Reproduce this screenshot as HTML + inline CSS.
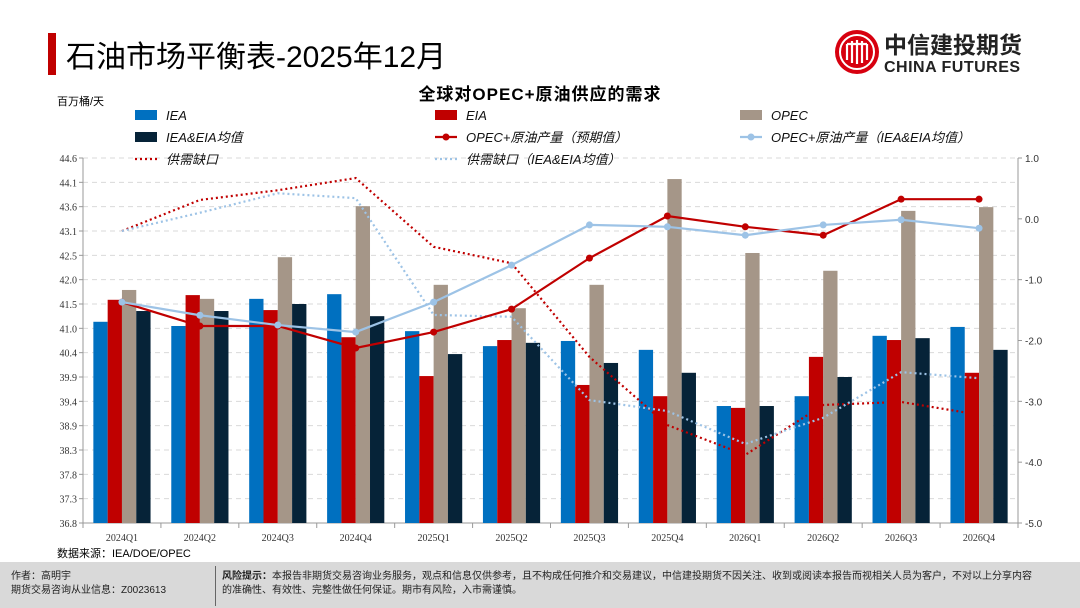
<!DOCTYPE html>
<html><head><meta charset="utf-8">
<style>
body{margin:0;width:1080px;height:608px;background:#fff;position:relative;overflow:hidden;font-family:"Liberation Sans","Noto Sans CJK SC",sans-serif;}
.abs{position:absolute;}
</style></head><body>
<div class="abs" style="left:48px;top:33px;width:8px;height:42px;background:#c00000"></div>
<div class="abs" style="left:66px;top:32px;font-size:30px;color:#000;white-space:nowrap;letter-spacing:0px">石油市场平衡表-2025年12月</div>
<div class="abs" style="left:834px;top:29px;width:200px;height:48px">
<svg width="200" height="48"><circle cx="23" cy="23" r="22" fill="#d7000f"/><circle cx="23" cy="23" r="17" fill="none" stroke="#fff" stroke-width="2"/><path d="M13 15v16M18 12v22M23 11v24M28 12v22M33 15v16M13 15h20" stroke="#fff" stroke-width="2.2" fill="none"/>
<text x="50" y="24" font-size="23" font-weight="bold" fill="#222" font-family="Noto Sans CJK SC,sans-serif">中信建投期货</text>
<text x="50" y="43" font-size="16" font-weight="bold" fill="#222" font-family="Liberation Sans,sans-serif" letter-spacing="0.5">CHINA FUTURES</text></svg></div>
<div class="abs" style="left:0;width:1080px;top:80px;text-align:center;font-size:17px;font-weight:bold;letter-spacing:1px">全球对OPEC+原油供应的需求</div>
<div class="abs" style="left:57px;top:93px;font-size:11px">百万桶/天</div>
<div class="abs" style="left:57px;top:545px;font-size:11px">数据来源：IEA/DOE/OPEC</div>
<div class="abs" style="left:0;top:562px;width:1080px;height:46px;background:#d9d9d9">
<div class="abs" style="left:11px;top:8px;font-size:10px;line-height:14px;color:#222">作者：高明宇<br>期货交易咨询从业信息：Z0023613</div>
<div class="abs" style="left:215px;top:4px;width:1px;height:40px;background:#666"></div>
<div class="abs" style="left:222px;top:8px;font-size:10px;line-height:14px;color:#222;white-space:nowrap"><b>风险提示：</b>本报告非期货交易咨询业务服务，观点和信息仅供参考，且不构成任何推介和交易建议，中信建投期货不因关注、收到或阅读本报告而视相关人员为客户，不对以上分享内容<br>的准确性、有效性、完整性做任何保证。期市有风险，入市需谨慎。</div>
</div>
<svg id="chart" class="abs" style="left:0;top:0" width="1080" height="560"></svg>
<script>
const categories=["2024Q1","2024Q2","2024Q3","2024Q4","2025Q1","2025Q2","2025Q3","2025Q4","2026Q1","2026Q2","2026Q3","2026Q4"];
const iea=[41.10,41.01,41.59,41.69,40.90,40.58,40.69,40.50,39.30,39.51,40.80,40.99];
const eia=[41.57,41.67,41.35,40.77,39.94,40.71,39.75,39.51,39.26,40.35,40.71,40.01];
const opec=[41.78,41.59,42.48,43.57,41.89,41.39,41.89,44.15,42.57,42.19,43.47,43.55];
const avg=[41.33,41.33,41.48,41.22,40.41,40.65,40.22,40.01,39.30,39.92,40.75,40.50];
const opecPlusPred=[41.52,41.01,41.01,40.54,40.88,41.37,42.46,43.36,43.13,42.95,43.72,43.72];
const opecPlusAvg=[41.52,41.24,41.03,40.88,41.52,42.31,43.17,43.13,42.95,43.17,43.28,43.10];
const gap=[-0.20,0.31,0.47,0.67,-0.46,-0.73,-2.27,-3.39,-3.88,-3.06,-3.01,-3.22];
const gapAvg=[-0.20,0.10,0.42,0.34,-1.58,-1.61,-2.98,-3.16,-3.70,-3.27,-2.52,-2.62];
const leftTicks=["44.6","44.1","43.6","43.1","42.5","42.0","41.5","41.0","40.4","39.9","39.4","38.9","38.3","37.8","37.3","36.8"];
const rightTicks=[1,0,-1,-2,-3,-4,-5];

const svg=document.getElementById('chart');const NS='http://www.w3.org/2000/svg';
const X0=83,X1=1018,Y0=158,Y1=523,LMIN=36.8,LMAX=44.6,RMIN=-5,RMAX=1;
const bw=(X1-X0)/categories.length;
const yL=v=>Y1-(v-LMIN)/(LMAX-LMIN)*(Y1-Y0);
const yR=v=>Y1-(v-RMIN)/(RMAX-RMIN)*(Y1-Y0);
const xC=i=>X0+bw*(i+0.5);
function el(t,a,p){const e=document.createElementNS(NS,t);for(const k in a)e.setAttribute(k,a[k]);(p||svg).appendChild(e);return e;}
// grid + left ticks
leftTicks.forEach((t,i)=>{const y=Y0+i*(Y1-Y0)/(leftTicks.length-1);
 if(i<leftTicks.length-1){const g=el('line',{x1:X0,x2:X1,y1:y,y2:y,stroke:'#d9d9d9','stroke-dasharray':'5,4'});}
 const tx=el('text',{x:77,y:y+4,'text-anchor':'end','font-size':10,'font-family':'Liberation Serif,serif',fill:'#333'});tx.textContent=t;
 
 el('line',{x1:X0-4,x2:X0,y1:y,y2:y,stroke:'#999'});});
rightTicks.forEach(v=>{const y=yR(v);el('line',{x1:X1,x2:X1+4,y1:y,y2:y,stroke:'#999'});
 const tx=el('text',{x:1025,y:y+4,'font-size':10,'font-family':'Liberation Sans,sans-serif',fill:'#333'});tx.textContent=v.toFixed(1);
 });
el('line',{x1:X0,x2:X0,y1:Y0,y2:Y1,stroke:'#999'});el('line',{x1:X1,x2:X1,y1:Y0,y2:Y1,stroke:'#999'});
el('line',{x1:X0,x2:X1,y1:Y1,y2:Y1,stroke:'#999'});
categories.forEach((c,i)=>{const x=X0+bw*(i+1);el('line',{x1:x,x2:x,y1:Y1,y2:Y1+5,stroke:'#999'});
 const tx=el('text',{x:xC(i),y:541,'text-anchor':'middle','font-size':10,'font-family':'Liberation Serif,serif',fill:'#333'});tx.textContent=c;
 });
el('line',{x1:X0,x2:X0,y1:Y1,y2:Y1+5,stroke:'#999'});
// bars
const series=[[iea,'#0070c0','bar-iea'],[eia,'#c00000','bar-eia'],[opec,'#a59688','bar-opec'],[avg,'#062338','bar-avg']];
const w=14.3;
series.forEach((s,k)=>{s[0].forEach((v,i)=>{const x=xC(i)-2*w+k*w;const y=yL(v);
 const r=el('rect',{x:x,y:y,width:w,height:Y1-y,fill:s[1]});
 });});
function line(vals,yf,color,dash,marker,name){const pts=vals.map((v,i)=>xC(i)+','+yf(v)).join(' ');
 const p=el('polyline',{points:pts,fill:'none',stroke:color,'stroke-width':dash?2.2:2.2});if(dash){p.setAttribute('stroke-dasharray','2,3');}
 
 if(marker)vals.forEach((v,i)=>{const c=el('circle',{cx:xC(i),cy:yf(v),r:3.5,fill:color});});}
line(gap,yR,'#c00000',true,false,'line-gap');
line(gapAvg,yR,'#9dc3e6',true,false,'line-gap-avg');
line(opecPlusPred,yL,'#c00000',false,true,'line-opec-plus-pred');
line(opecPlusAvg,yL,'#9dc3e6',false,true,'line-opec-plus-avg');
// legend
const leg=[[135,115,'rect','#0070c0','IEA'],[435,115,'rect','#c00000','EIA'],[740,115,'rect','#a59688','OPEC'],
[135,137,'rect','#062338','IEA&EIA均值'],[435,137,'mark','#c00000','OPEC+原油产量（预期值）'],[740,137,'mark','#9dc3e6','OPEC+原油产量（IEA&EIA均值）'],
[135,159,'dot','#c00000','供需缺口'],[435,159,'dot','#9dc3e6','供需缺口（IEA&EIA均值）']];
leg.forEach(l=>{const [x,y,t,c,txt]=l;const g=el('g',{});
 if(t=='rect')el('rect',{x:x,y:y-5,width:22,height:10,fill:c},g);
 else{el('line',{x1:x,x2:x+22,y1:y,y2:y,stroke:c,'stroke-width':2.2,'stroke-dasharray':t=='dot'?'2,3':''},g);if(t=='mark')el('circle',{cx:x+11,cy:y,r:3.5,fill:c},g);}
 const tx=el('text',{x:x+31,y:y+5,'font-size':13,'font-style':'italic',fill:'#111','font-family':'Liberation Sans,Noto Sans CJK SC,sans-serif'},g);tx.textContent=txt;});
</script>
</body></html>
